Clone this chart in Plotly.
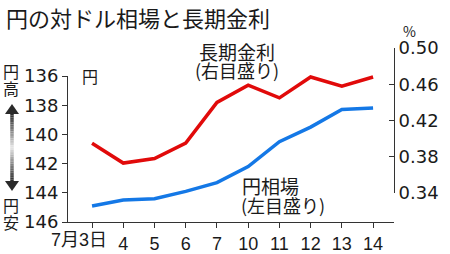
import plotly.graph_objects as go

dates = ["7月3日", "4", "5", "6", "7", "10", "11", "12", "13", "14"]
yen = [144.9, 144.5, 144.4, 143.9, 143.3, 142.2, 140.5, 139.5, 138.3, 138.2]
rate = [0.395, 0.373, 0.378, 0.395, 0.440, 0.459, 0.445, 0.468, 0.458, 0.468]
yen_ticks = [136, 138, 140, 142, 144, 146]
rate_ticks = [0.34, 0.38, 0.42, 0.46, 0.50]

W, H = 450, 254
L, R, T, B = 68, 56, 48, 32
PW, PH = W - L - R, H - T - B

def px(x):
    return (x - L) / PW

def py(y):
    return (H - B - y) / PH

JP = "Noto Sans CJK JP"
NUM = "Liberation Sans, Noto Sans CJK JP"

xs = list(range(len(dates)))
ticktext = [""] + dates[1:]

fig = go.Figure()
fig.add_trace(go.Scatter(x=xs, y=yen, xaxis="x", yaxis="y", mode="lines",
                         line=dict(color="#1478e6", width=3.5), hoverinfo="skip"))
fig.add_trace(go.Scatter(x=xs, y=rate, xaxis="x", yaxis="y2", mode="lines",
                         line=dict(color="#e10a0a", width=3.5), hoverinfo="skip"))

axcol = "#333333"
fig.update_layout(
    width=W, height=H, margin=dict(l=L, r=R, t=T, b=B, autoexpand=False),
    paper_bgcolor="white", plot_bgcolor="rgba(0,0,0,0)", showlegend=False,
    xaxis=dict(domain=[0, 1], range=[-0.77, 9.67], tickmode="array", tickvals=xs,
               ticktext=ticktext, showline=True, linecolor=axcol, linewidth=1,
               ticks="outside", ticklen=5, tickcolor=axcol, showgrid=False,
               zeroline=False, anchor="y", tickangle=0, automargin=False,
               tickfont=dict(family=NUM, size=18, color="#1a1a1a")),
    yaxis=dict(domain=[0, py(76)], range=[146, 136], tickmode="array",
               tickvals=yen_ticks, ticktext=[str(v) for v in yen_ticks],
               showline=True, linecolor=axcol, linewidth=1, ticks="outside",
               ticklen=5, tickcolor=axcol, showgrid=False, zeroline=False,
               anchor="x", automargin=False,
               tickfont=dict(family="DejaVu Sans", size=18, color="#1a1a1a")),
    yaxis2=dict(domain=[py(193), 1], range=[0.34, 0.50], tickmode="array",
                tickvals=rate_ticks, ticktext=["%.2f" % v for v in rate_ticks],
                side="right", anchor="x", showline=True, linecolor=axcol,
                linewidth=1, ticks="inside", ticklen=5, tickcolor=axcol,
                showgrid=False, zeroline=False, automargin=False,
                tickfont=dict(family="DejaVu Sans", size=18, color="#1a1a1a")),
)

def ann(text, x, y, size, xanchor="left", family=JP):
    fig.add_annotation(text=text, x=px(x), y=py(y), xref="paper", yref="paper",
                       xanchor=xanchor, yanchor="middle", showarrow=False,
                       font=dict(family=family, size=size, color="#1a1a1a"))

ann("円の対ドル相場と長期金利", 4, 17, 22)
ann("長期金利", 237, 51, 19, "center")
ann("(右目盛り)", 237, 70, 18, "center")
ann("円相場", 240, 185, 19)
ann("(左目盛り)", 239, 205, 18)
ann("円", 80, 76, 16)
ann("%", 401, 31, 14)
ann("円", 11, 71, 16, "center")
ann("高", 11, 88, 16, "center")
ann("円", 11, 205, 16, "center")
ann("安", 11, 222, 16, "center")
ann(dates[0], 109, 240, 18, "right", NUM)

# gradient double arrow
dark = 40
n = 30
y0, y1 = 113, 182
mid = (y0 + y1) / 2
for i in range(n):
    a = y0 + (y1 - y0) * i / n
    b = y0 + (y1 - y0) * (i + 1) / n
    c = (a + b) / 2
    t = abs(c - mid) / (mid - y0)
    g = int(235 - (235 - dark) * t ** 0.9)
    fig.add_shape(type="line", xref="paper", yref="paper",
                  x0=px(12), x1=px(12), y0=py(a), y1=py(b),
                  line=dict(color="rgb(%d,%d,%d)" % (g, g, g), width=3.5))
for tip, base in ((104, 114), (191, 181)):
    path = "M %f %f L %f %f L %f %f Z" % (px(12), py(tip), px(5), py(base), px(19), py(base))
    fig.add_shape(type="path", xref="paper", yref="paper", path=path,
                  fillcolor="#2a2a2a", line=dict(width=0))

fig.write_html("out.html")
